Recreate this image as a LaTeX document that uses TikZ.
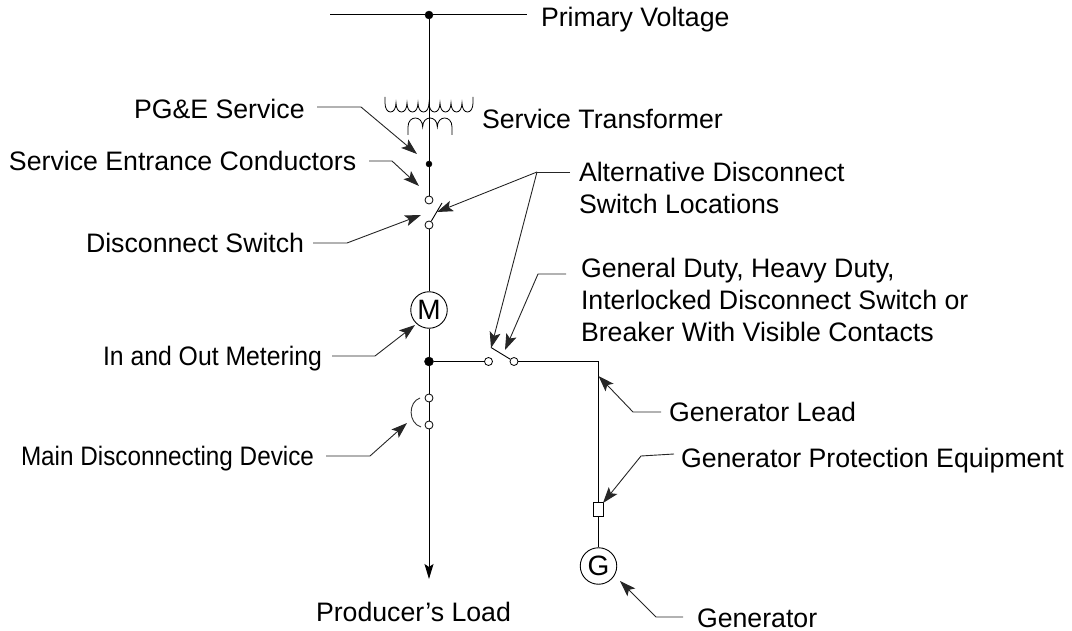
\documentclass[tikz,border=0pt]{standalone}
\usepackage{fontspec}
\setmainfont{Liberation Sans}
\newfontfamily\narrowio[FakeStretch=0.928]{Liberation Sans}
\newfontfamily\narrowmd[FakeStretch=0.91]{Liberation Sans}
\usetikzlibrary{arrows.meta}
\tikzset{
  x=1pt,y=-1pt,
  lab/.style={anchor=base west,inner sep=0pt,outer sep=0pt,align=left,font=\fontsize{26.7}{32}\selectfont,text=black},
  wire/.style={draw=black,line width=1pt},
  leader/.style={draw=black!85,line width=0.9pt,-{Stealth[length=16pt,width=11pt,inset=3.5pt]}},
  plainleader/.style={draw=black!85,line width=0.9pt},
  bigdot/.style={circle,fill=black,draw=black,inner sep=0pt,minimum size=#1},
  opendot/.style={circle,fill=white,draw=black,line width=0.8pt,inner sep=0pt,minimum size=8pt},
  machine/.style={circle,draw=black,line width=0.9pt,fill=white,inner sep=0pt,minimum size=36.5pt,font=\fontsize{28}{28}\selectfont},
}
\begin{document}
\begin{tikzpicture}
\useasboundingbox (0,0) rectangle (1072,631);
% nodes on the main line
\coordinate (busL) at (330,15); \coordinate (busR) at (527,15);
\node[bigdot=8pt] (top) at (429,15) {};
\node[bigdot=6pt] (svc) at (429,164) {};
\node[opendot] (sw1a) at (429,200) {};
\node[opendot] (sw1b) at (429,225) {};
\coordinate (sw1t) at (442,203);
\node[machine] (M) at (429,310) {M};
\node[bigdot=9pt] (junc) at (429,361.5) {};
\node[opendot] (br1) at (429,398) {};
\node[opendot] (br2) at (429,425) {};
\coordinate (load) at (429,579);
\node[opendot] (sw2a) at (488.5,361.5) {};
\node[opendot] (sw2b) at (514,361.5) {};
\coordinate (sw2t) at (491,347.5);
\coordinate (corner) at (598.5,361.5);
\node[draw=black,fill=white,line width=0.9pt,inner sep=0pt,minimum width=10pt,minimum height=14pt] (fuse) at (598.5,509) {};
\node[machine] (G) at (598.5,566) {G};
% wires
\draw[wire] (busL) -- (top) -- (busR);
\draw[wire] (top) -- (svc) -- (sw1a);
\draw[wire] (sw1b) -- (M);
\draw[wire] (M) -- (junc) -- (br1) -- (br2);
\draw[wire,-{Stealth[length=15pt,width=9pt,inset=3pt]}] (br2) -- (load);
\draw[wire] (junc) -- (sw2a);
\draw[wire] (sw2b) -- (corner) -- (fuse);
\draw[wire] (fuse) -- (G);
\draw[line width=0.9pt] (sw1b) -- (sw1t);
\draw[line width=0.9pt] (sw2b) -- (sw2t);
% transformer
\draw[line width=0.8pt] (385,97) -- (385,103) foreach \i in {0,...,7} { .. controls (385+11*\i,115) and (396+11*\i,115) .. (396+11*\i,103) } -- (473,97);
\draw[line width=0.8pt] (408,135) -- (408,127) foreach \i in {0,1,2} { .. controls (408+14.67*\i,115) and (422.67+14.67*\i,115) .. (422.67+14.67*\i,127) } -- (452,135);
% breaker arc
\draw[line width=0.9pt,draw=black!80] (420,398) .. controls (408,402) and (408,423) .. (421,427);
% labels
\node[lab] (lPV) at (541,26.5) {Primary Voltage};
\node[lab] (lPG) at (134,118.5) {PG\&E Service};
\node[lab] (lST) at (482,128.5) {Service Transformer};
\node[lab] (lSE) at (9,170.5) {Service Entrance Conductors};
\node[lab] (lDS) at (86,252.5) {Disconnect Switch};
\node[lab] (lAD) at (579,213.5) {Alternative Disconnect\\Switch Locations};
\node[lab] (lGD) at (581,341.5) {General Duty, Heavy Duty,\\Interlocked Disconnect Switch or\\Breaker With Visible Contacts};
\node[lab] (lIO) at (103,365.5) {\narrowio In and Out Metering};
\node[lab] (lGL) at (669,421.5) {Generator Lead};
\node[lab] (lGP) at (681,467.5) {Generator Protection Equipment};
\node[lab] (lMD) at (21,465.5) {\narrowmd Main Disconnecting Device};
\node[lab] (lPL) at (316,621.5) {Producer's Load};
\node[lab] (lGN) at (697,627.5) {Generator};
% leaders
\coordinate (a1) at (317,107); \coordinate (a2) at (361,107); \coordinate (a3) at (417,154);
\draw[leader] (a1) -- (a2) -- (a3);
\coordinate (b1) at (369,161); \coordinate (b2) at (392,161); \coordinate (b3) at (419,186);
\draw[leader] (b1) -- (b2) -- (b3);
\coordinate (c1) at (313,243); \coordinate (c2) at (347,243); \coordinate (c3) at (421,215);
\draw[leader] (c1) -- (c2) -- (c3);
\coordinate (d1) at (570,172); \coordinate (d2) at (537,172); \coordinate (d3) at (437,212); \coordinate (d4) at (491,348);
\draw[plainleader] (d1) -- (d2);
\draw[leader] (d2) -- (d3);
\draw[leader] (d2) -- (d4);
\coordinate (e1) at (566,274); \coordinate (e2) at (538,274); \coordinate (e3) at (505,350);
\draw[leader] (e1) -- (e2) -- (e3);
\coordinate (f1) at (332,356); \coordinate (f2) at (375,356); \coordinate (f3) at (415,325);
\draw[leader] (f1) -- (f2) -- (f3);
\coordinate (g1) at (326,456); \coordinate (g2) at (370,456); \coordinate (g3) at (407,423);
\draw[leader] (g1) -- (g2) -- (g3);
\coordinate (h1) at (661,412); \coordinate (h2) at (633,412); \coordinate (h3) at (598.5,376);
\draw[leader] (h1) -- (h2) -- (h3);
\coordinate (i1) at (674,454); \coordinate (i2) at (641,456); \coordinate (i3) at (603,503);
\draw[leader] (i1) -- (i2) -- (i3);
\coordinate (j1) at (683,617); \coordinate (j2) at (656,617); \coordinate (j3) at (620,581);
\draw[leader] (j1) -- (j2) -- (j3);
\end{tikzpicture}
\end{document}
